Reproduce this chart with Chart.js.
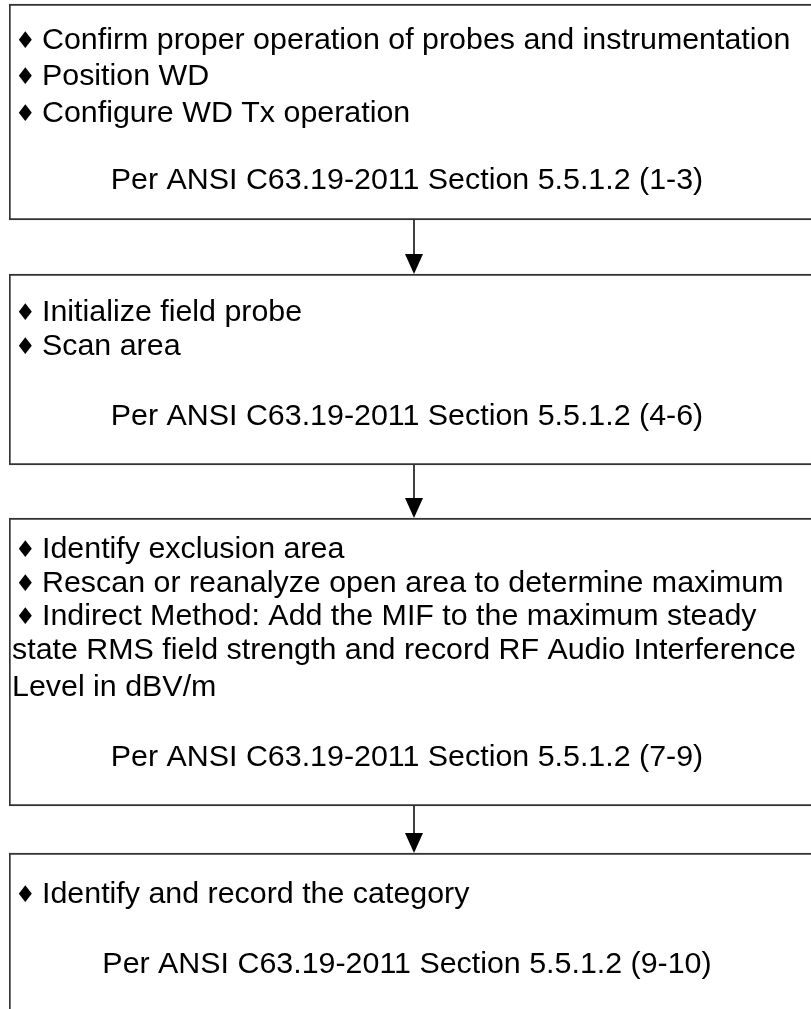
<!DOCTYPE html>
<html>
<head>
<meta charset="utf-8">
<script src="https://cdn.jsdelivr.net/npm/chart.js@4.4.0/dist/chart.umd.min.js"></script>
<style>
html,body{margin:0;padding:0;background:#fff;overflow:hidden;}
#wrap{position:absolute;left:0;top:0;width:830px;height:1009px;}
</style>
</head>
<body>
<div id="wrap"><canvas id="c" width="830" height="1009"></canvas></div>
<script>
// ---- data ----
const categories = ['flow'];
const boxStart = [4, 274, 518, 853];
const boxEnd = [220, 465, 806, 1030];
const boxBullets = [
  ['Confirm proper operation of probes and instrumentation', 'Position WD', 'Configure WD Tx operation'],
  ['Initialize field probe', 'Scan area'],
  ['Identify exclusion area', 'Rescan or reanalyze open area to determine maximum', 'Indirect Method: Add the MIF to the maximum steady'],
  ['Identify and record the category']
];
const boxContinuation = [[], [], ['state RMS field strength and record RF Audio Interference', 'Level in dBV/m'], []];
const boxRefs = [
  'Per ANSI C63.19-2011 Section 5.5.1.2 (1-3)',
  'Per ANSI C63.19-2011 Section 5.5.1.2 (4-6)',
  'Per ANSI C63.19-2011 Section 5.5.1.2 (7-9)',
  'Per ANSI C63.19-2011 Section 5.5.1.2 (9-10)'
];

// ---- layout (positions in scale units) ----
const bulletLineY = [[41, 77, 114], [313, 347], [550, 584, 617], [895]];
const contLineY = [[], [], [651, 688], []];
const refLineY = [181, 417, 758, 965];

const FONT = '30.4px "Liberation Sans", Arial, sans-serif';

const textPlugin = {
  id: 'flowText',
  afterDatasetsDraw(chart) {
    const ctx = chart.ctx;
    const ys = chart.scales.y;
    ctx.save();
    // arrows between boxes
    ctx.strokeStyle = '#000';
    ctx.fillStyle = '#000';
    ctx.lineWidth = 1.5;
    const cx = chart.getDatasetMeta(0).data[0].x;
    for (let i = 0; i < boxStart.length - 1; i++) {
      const y0 = ys.getPixelForValue(boxEnd[i]);
      const y1 = ys.getPixelForValue(boxStart[i + 1]);
      ctx.beginPath();
      ctx.moveTo(cx, y0);
      ctx.lineTo(cx, y1 - 18);
      ctx.stroke();
      ctx.beginPath();
      ctx.moveTo(cx - 9, y1 - 20);
      ctx.lineTo(cx + 9, y1 - 20);
      ctx.lineTo(cx, y1);
      ctx.closePath();
      ctx.fill();
    }
    // texts
    ctx.fillStyle = '#000';
    ctx.textBaseline = 'middle';
    for (let i = 0; i < boxBullets.length; i++) {
      boxBullets[i].forEach((t, j) => {
        const y = ys.getPixelForValue(bulletLineY[i][j]);
        ctx.textAlign = 'left';
        ctx.font = '23px "DejaVu Sans", sans-serif';
        ctx.fillText('\u2666', 15, y + 1);
        ctx.font = FONT;
        ctx.fillText(t, 42, y);
      });
      boxContinuation[i].forEach((t, j) => {
        const y = ys.getPixelForValue(contLineY[i][j]);
        ctx.textAlign = 'left';
        ctx.font = FONT;
        ctx.fillText(t, 12, y);
      });
      ctx.textAlign = 'center';
      ctx.font = FONT;
      ctx.fillText(boxRefs[i], 407, ys.getPixelForValue(refLineY[i]));
    }
    ctx.restore();
  }
};

const datasets = boxStart.map((s, i) => ({
  label: 'box' + (i + 1),
  data: [[s, boxEnd[i]]],
  backgroundColor: '#ffffff',
  borderColor: '#333333',
  borderWidth: 2,
  borderSkipped: false,
  categoryPercentage: 1,
  barPercentage: 1
}));

new Chart(document.getElementById('c'), {
  type: 'bar',
  data: { labels: categories, datasets },
  options: {
    responsive: false,
    animation: false,
    devicePixelRatio: 1,
    grouped: false,
    layout: { padding: { left: 9, right: 11, top: 0, bottom: 0 } },
    plugins: { legend: { display: false }, tooltip: { enabled: false } },
    scales: {
      x: { display: false },
      y: { display: false, min: 0, max: 1009, reverse: true }
    }
  },
  plugins: [textPlugin]
});
</script>
</body>
</html>
